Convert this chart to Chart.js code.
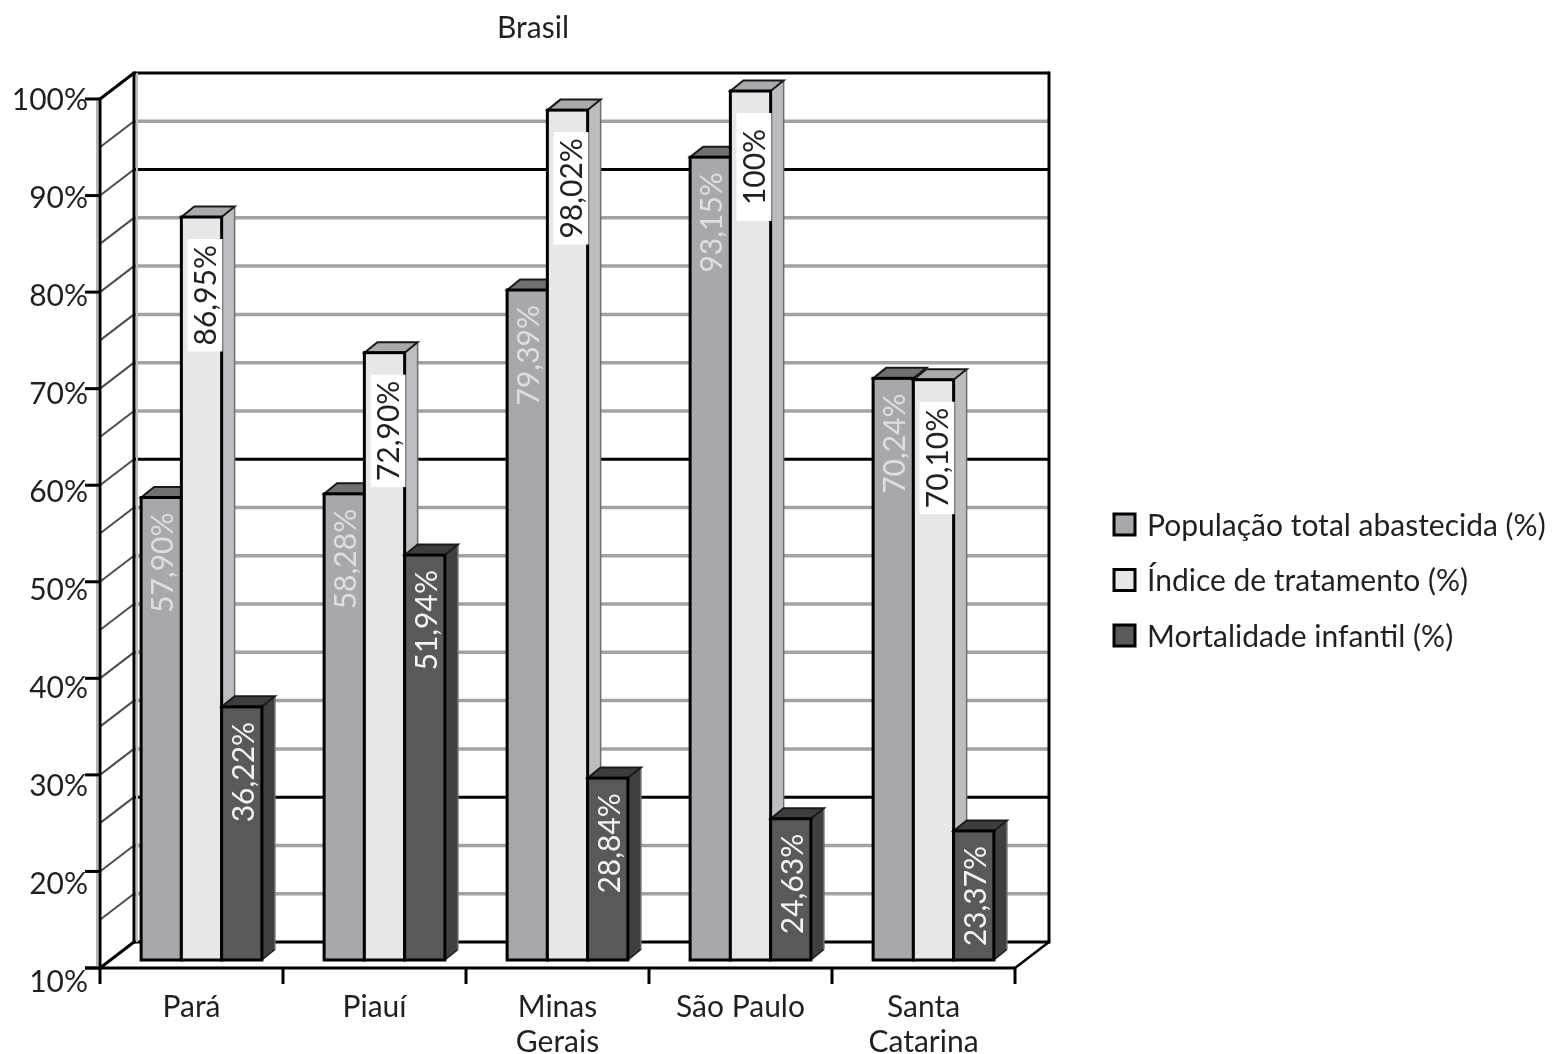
<!DOCTYPE html>
<html>
<head>
<meta charset="utf-8">
<title>Brasil</title>
<script src="https://cdn.jsdelivr.net/npm/chart.js@4/dist/chart.umd.min.js"></script>
<style>
  html, body { margin: 0; padding: 0; background: #ffffff; }
  #wrap { width: 1553px; height: 1054px; position: relative; }
</style>
</head>
<body>
<div id="wrap"><canvas id="chart"></canvas></div>
<script>
// ---- data ----
const chartTitle = 'Brasil';
const states = [['Pará'], ['Piauí'], ['Minas', 'Gerais'], ['São Paulo'], ['Santa', 'Catarina']];
const populacaoAbastecida = [57.90, 58.28, 79.39, 93.15, 70.24];
const indiceTratamento = [86.95, 72.90, 98.02, 100, 70.10];
const mortalidadeInfantil = [36.22, 51.94, 28.84, 24.63, 23.37];
const seriesNames = ['População total abastecida (%)', 'Índice de tratamento (%)', 'Mortalidade infantil (%)'];
const yTickValues = [10, 20, 30, 40, 50, 60, 70, 80, 90, 100];
const wallLineValues = [10, 15, 20, 25, 30, 35, 40, 45, 50, 55, 60, 65, 70, 75, 80, 85, 90, 95, 100];
const strongWallLines = [10, 25, 60, 90, 100];

// ---- look ----
const FONT = 'Lato, "Open Sans", sans-serif';
const TEXT = '#231f20';
const frontColors = ['#a7a8ab', '#e6e7e8', '#58595b'];
const topColors = ['#707173', '#a9aaad', '#3d3d3f'];
const sideColors = ['#8d8e91', '#bcbdc0', '#404042'];
const labelColors = ['#dedee0', '#231f20', '#f2f2f2'];
// offsets of the front edge and back wall relative to the plane the bars stand on
const FRONT = { dx: -10, dy: 8 };
const BACK = { dx: 24, dy: -18 };
const BAR_DEPTH = { dx: 13, dy: -10.5 };

function fmtPct(v) {
  return (Number.isInteger(v) ? String(v) : v.toFixed(2).replace('.', ',')) + '%';
}

function line(ctx, x0, y0, x1, y1) {
  ctx.beginPath(); ctx.moveTo(x0, y0); ctx.lineTo(x1, y1); ctx.stroke();
}

function poly(ctx, pts) {
  ctx.beginPath();
  ctx.moveTo(pts[0][0], pts[0][1]);
  for (let i = 1; i < pts.length; i++) ctx.lineTo(pts[i][0], pts[i][1]);
  ctx.closePath();
}

const box3d = {
  id: 'box3d',

  // walls, floor, axes, ticks, title, legend
  beforeDatasetsDraw(chart) {
    const { ctx, chartArea: a, scales: { x, y } } = chart;
    const fy = v => y.getPixelForValue(v) + FRONT.dy;
    const by = v => y.getPixelForValue(v) + BACK.dy;
    const fx0 = a.left + FRONT.dx, fx1 = a.right + FRONT.dx;
    const bx0 = a.left + BACK.dx, bx1 = a.right + BACK.dx;
    ctx.save();
    ctx.lineCap = 'butt';

    // back wall horizontal lines + side wall diagonals
    wallLineValues.forEach(v => {
      const strong = strongWallLines.includes(v);
      ctx.strokeStyle = strong ? '#000' : '#a2a2a2';
      ctx.lineWidth = strong ? 3 : 3.5;
      line(ctx, bx0, by(v), bx1, by(v));
      ctx.strokeStyle = (v === 10 || v === 100) ? '#000' : '#4d4d4d';
      ctx.lineWidth = (v === 10 || v === 100) ? 3 : 2;
      line(ctx, fx0, fy(v), bx0, by(v));
    });

    // back wall verticals
    ctx.strokeStyle = '#bdbdbd'; ctx.lineWidth = 2;
    line(ctx, bx0 + 3, by(100), bx0 + 3, by(10));
    ctx.strokeStyle = '#000'; ctx.lineWidth = 3;
    line(ctx, bx0, by(100) - 1.5, bx0, by(10) + 1.5);
    line(ctx, bx1, by(100) - 1.5, bx1, by(10) + 1.5);

    // floor edges
    line(ctx, fx0 - 15, fy(10), fx1, fy(10));
    ctx.lineWidth = 2.5;
    line(ctx, fx1, fy(10), bx1, by(10));

    // front vertical axis with its shade
    ctx.strokeStyle = '#b5b5b5'; ctx.lineWidth = 2;
    line(ctx, fx0 - 3, fy(100), fx0 - 3, fy(10));
    ctx.strokeStyle = '#000'; ctx.lineWidth = 3;
    line(ctx, fx0, fy(100) - 1.5, fx0, fy(10) + 1.5);

    // y ticks and labels
    ctx.font = '30px ' + FONT;
    ctx.fillStyle = TEXT;
    ctx.textAlign = 'right';
    ctx.textBaseline = 'middle';
    yTickValues.forEach(v => {
      line(ctx, fx0 - 15, fy(v), fx0, fy(v));
      ctx.fillText(v + '%', fx0 - 12, fy(v) + 1 + (100 - v) * 0.15);
    });

    // x ticks and category labels
    const n = states.length;
    const step = (fx1 - fx0) / n;
    for (let i = 0; i <= n; i++) {
      const tx = fx0 + i * step;
      line(ctx, tx, fy(10), tx, fy(10) + 16);
    }
    ctx.textAlign = 'center';
    ctx.textBaseline = 'alphabetic';
    states.forEach((lines, i) => {
      const cx = x.getPixelForValue(i) + FRONT.dx;
      lines.forEach((t, k) => ctx.fillText(t, cx, fy(10) + 49 + k * 35));
    });

    // title
    ctx.fillText(chartTitle, 533, 38);

    // legend
    ctx.textAlign = 'left';
    ctx.textBaseline = 'middle';
    chart.data.datasets.forEach((ds, i) => {
      const cy = 525 + i * 55.5;
      ctx.fillStyle = ds.backgroundColor;
      ctx.fillRect(1114, cy - 11, 21, 21);
      ctx.strokeStyle = '#000'; ctx.lineWidth = 3;
      ctx.strokeRect(1114, cy - 11, 21, 21);
      ctx.fillStyle = TEXT;
      ctx.fillText(ds.label, 1147, cy + 1);
    });
    ctx.restore();
  },

  // the flat bars are hidden; each bar is drawn here as a block, left to right
  afterDatasetsDraw(chart) {
    const { ctx } = chart;
    const { dx, dy } = BAR_DEPTH;
    ctx.save();
    chart.data.datasets.forEach((ds, d) => {
      const meta = chart.getDatasetMeta(d);
      meta.data.forEach(el => {
        const { x, y, base, width } = el.getProps(['x', 'y', 'base', 'width'], true);
        const xl = x - width / 2, xr = x + width / 2;
        // side face
        poly(ctx, [[xr, y], [xr + dx, y + dy], [xr + dx, base + dy], [xr, base]]);
        ctx.fillStyle = sideColors[d]; ctx.fill();
        ctx.strokeStyle = '#6e6e6e'; ctx.lineWidth = 1.5;
        line(ctx, xr + dx, y + dy, xr + dx, base + dy);
        ctx.strokeStyle = '#1a1a1a'; ctx.lineWidth = 1.5;
        line(ctx, xr, base, xr + dx, base + dy);
        // top face
        poly(ctx, [[xl, y], [xl + dx, y + dy], [xr + dx, y + dy], [xr, y]]);
        ctx.fillStyle = topColors[d]; ctx.fill();
        ctx.strokeStyle = '#1a1a1a'; ctx.lineWidth = 2;
        ctx.stroke();
        // front face
        ctx.fillStyle = frontColors[d];
        ctx.fillRect(xl, y, width, base - y);
        ctx.strokeStyle = '#000'; ctx.lineWidth = 3;
        ctx.strokeRect(xl, y, width, base - y);
      });
    });

    // rotated value labels
    ctx.font = '30px ' + FONT;
    chart.data.datasets.forEach((ds, d) => {
      const meta = chart.getDatasetMeta(d);
      meta.data.forEach((el, i) => {
        const txt = fmtPct(ds.data[i]);
        const w = ctx.measureText(txt).width;
        ctx.save();
        if (d === 1) {
          const boxLen = Math.max(w + 12, 108);
          ctx.translate(el.x, el.y + 22);
          ctx.rotate(-Math.PI / 2);
          ctx.fillStyle = '#ffffff';
          ctx.fillRect(-boxLen, -14, boxLen, 35);
          ctx.fillStyle = labelColors[d];
          ctx.textAlign = 'center';
          ctx.textBaseline = 'alphabetic';
          ctx.fillText(txt, -boxLen / 2, 14);
        } else {
          ctx.translate(el.x, el.y + 15);
          ctx.rotate(-Math.PI / 2);
          ctx.fillStyle = labelColors[d];
          ctx.textAlign = 'right';
          ctx.textBaseline = 'alphabetic';
          ctx.fillText(txt, 0, 12);
        }
        ctx.restore();
      });
    });
    ctx.restore();
  }
};

const series = [populacaoAbastecida, indiceTratamento, mortalidadeInfantil];

new Chart(document.getElementById('chart'), {
  type: 'bar',
  data: {
    labels: states,
    datasets: series.map((vals, i) => ({
      label: seriesNames[i],
      data: vals,
      base: 10,
      backgroundColor: frontColors[i],
      borderWidth: 0,
      clip: false,
      categoryPercentage: 0.66,
      barPercentage: 1.0
    }))
  },
  options: {
    responsive: true,
    maintainAspectRatio: false,
    animation: false,
    devicePixelRatio: 1,
    layout: { padding: { left: 110, right: 528, top: 91, bottom: 94 } },
    plugins: { legend: { display: false }, title: { display: false }, tooltip: { enabled: false } },
    scales: {
      x: { display: false, offset: true },
      y: { display: false, min: 10, max: 100 }
    }
  },
  plugins: [box3d]
});
</script>
</body>
</html>
